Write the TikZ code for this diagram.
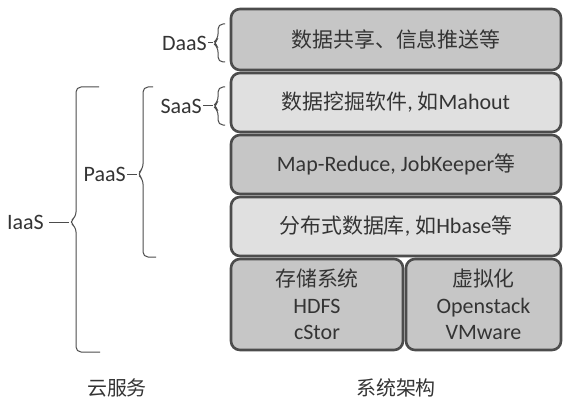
\documentclass[tikz,border=0pt]{standalone}
\usepackage{fontspec}
\setmainfont{Carlito}
\newfontfamily\cjk{Noto Sans CJK SC}[Scale=0.95]
\definecolor{edgegray}{HTML}{4C4C4C}
\definecolor{darkfill}{HTML}{C6C6C6}
\definecolor{lightfill}{HTML}{E0E0E0}
\definecolor{inkgray}{HTML}{343434}
\begin{document}
\begin{tikzpicture}[x=1pt,y=-1pt,
	layer/.style={draw=edgegray,line width=2.6pt,rounded corners=9pt,text=inkgray,
		font=\fontsize{22}{26.5}\selectfont,align=center,inner sep=0pt},
	svc/.style={anchor=east,inner sep=1pt,text=inkgray,font=\fontsize{22}{26}\selectfont},
	cbrace/.style={draw=black!70,line width=1pt,rounded corners=5pt},
	caption/.style={text=inkgray,font=\cjk\fontsize{21}{24}\selectfont}]
	\useasboundingbox (0,0) rectangle (564,409);
	% system layers
	\node[layer,fill=darkfill,minimum width=330pt,minimum height=61pt] (share) at (396,39.5)
		{{\cjk 数据共享、信息推送等}};
	\node[layer,fill=lightfill,minimum width=330pt,minimum height=59pt] (mining) at (396,102.5)
		{{\cjk 数据挖掘软件}, {\cjk 如}Mahout};
	\node[layer,fill=darkfill,minimum width=330pt,minimum height=59pt] (mapred) at (396,164.5)
		{Map-Reduce, JobKeeper{\cjk 等}};
	\node[layer,fill=lightfill,minimum width=330pt,minimum height=59pt] (dbase) at (396,226.5)
		{{\cjk 分布式数据库}, {\cjk 如}Hbase{\cjk 等}};
	\node[layer,fill=darkfill,minimum width=172pt,minimum height=91pt] (storage) at (317,304.5)
		{{\cjk 存储系统}\\HDFS\\cStor};
	\node[layer,fill=darkfill,minimum width=155pt,minimum height=91pt] (virt) at (483.5,304.5)
		{{\cjk 虚拟化}\\Openstack\\VMware};
	% cloud service braces
	\draw[cbrace] (225,24)--(218,24)--(218,39)--(213,43)--(218,47)--(218,62)--(225,62);
	\coordinate (dtip) at (213,43);
	\node[svc] (daas) at (208,43) {DaaS};
	\draw[black!70,line width=1pt] (daas.east)--(dtip);
	\draw[cbrace] (225,87)--(218,87)--(218,102)--(213,106)--(218,110)--(218,125)--(225,125);
	\coordinate (stip) at (213,106);
	\node[svc] (saas) at (203,106) {SaaS};
	\draw[black!70,line width=1pt] (saas.east)--(stip);
	\draw[cbrace] (153,87)--(143,87)--(143,169)--(137,174)--(143,179)--(143,257)--(156,257);
	\coordinate (ptip) at (137,174);
	\node[svc] (paas) at (127,174) {PaaS};
	\draw[black!70,line width=1pt] (paas.east)--(ptip);
	\draw[cbrace] (99,87)--(76,87)--(76,217)--(69,222)--(76,227)--(76,352)--(100,352);
	\coordinate (itip) at (69,222);
	\node[svc] (iaas) at (45,222) {IaaS};
	\draw[black!70,line width=1pt] ([xshift=4pt]iaas.east)--(itip);
	% captions
	\node[caption] (cloud) at (117,388) {云服务};
	\node[caption] (arch) at (396,388) {系统架构};
\end{tikzpicture}
\end{document}
